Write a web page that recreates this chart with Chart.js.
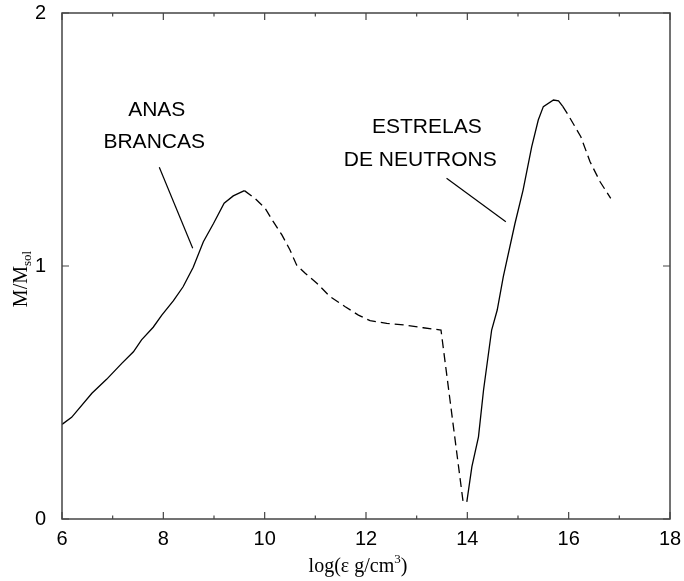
<!DOCTYPE html>
<html>
<head>
<meta charset="utf-8">
<script src="https://cdn.jsdelivr.net/npm/chart.js@4.4.1/dist/chart.umd.min.js"></script>
<style>
  html, body { margin: 0; padding: 0; background: #fff; }
  #massChart { display: block; }
</style>
</head>
<body>
<canvas id="massChart" width="684" height="581"></canvas>
<script>
// log(densidade) x massa / M_sol
const anasLogRho = [6.0, 6.19, 6.59, 6.88, 7.18, 7.41, 7.57, 7.80, 7.97, 8.20, 8.39, 8.59, 8.79, 8.99, 9.20, 9.38, 9.60];
const anasMass   = [0.374, 0.402, 0.497, 0.552, 0.615, 0.661, 0.708, 0.758, 0.806, 0.863, 0.918, 0.995, 1.096, 1.168, 1.248, 1.277, 1.298];

const anasInstLogRho = [9.60, 9.81, 10.01, 10.17, 10.34, 10.50, 10.63, 10.80, 11.03, 11.29, 11.59, 11.85, 12.08, 12.41, 12.74, 13.13, 13.48, 13.92];
const anasInstMass   = [1.298, 1.267, 1.228, 1.175, 1.123, 1.063, 1.004, 0.971, 0.932, 0.879, 0.839, 0.806, 0.784, 0.773, 0.767, 0.756, 0.747, 0.062];

const neutLogRho = [13.99, 14.09, 14.22, 14.32, 14.48, 14.59, 14.71, 14.94, 15.10, 15.27, 15.40, 15.50, 15.70, 15.80, 15.88];
const neutMass   = [0.068, 0.207, 0.325, 0.510, 0.747, 0.826, 0.958, 1.168, 1.300, 1.471, 1.577, 1.630, 1.656, 1.653, 1.632];

const neutInstLogRho = [15.88, 15.99, 16.24, 16.42, 16.62, 16.83];
const neutInstMass   = [1.632, 1.597, 1.511, 1.413, 1.333, 1.267];

// linhas indicadoras dos rótulos
const anasPointerX = [7.92, 8.58];
const anasPointerY = [1.390, 1.070];
const neutPointerX = [13.59, 14.76];
const neutPointerY = [1.347, 1.175];

const labelLines = [
  { text: "ANAS", x: 7.87, y: 1.617 },
  { text: "BRANCAS", x: 7.82, y: 1.490 },
  { text: "ESTRELAS", x: 13.20, y: 1.549 },
  { text: "DE NEUTRONS", x: 13.07, y: 1.419 }
];

const xTicks = [6, 8, 10, 12, 14, 16, 18];
const xMinorTicks = [7, 9, 11, 13, 15, 17];
const yTicks = [0, 1, 2];

function toPoints(xs, ys) {
  return xs.map((x, i) => ({ x: x, y: ys[i] }));
}

function curve(xs, ys, dashed, width) {
  return {
    data: toPoints(xs, ys),
    borderColor: "#000",
    borderWidth: width || 1.3,
    borderDash: dashed ? [9, 5] : [],
    pointRadius: 0,
    fill: false,
    tension: 0
  };
}

const sansFont = "'Liberation Sans', Arial, sans-serif";
const serifFont = "'Liberation Serif', 'Times New Roman', serif";

// moldura, marcas internas, rótulos e títulos dos eixos
const framePlugin = {
  id: "frame",
  afterDraw(chart) {
    const ctx = chart.ctx;
    const a = chart.chartArea;
    const xs = chart.scales.x;
    const ys = chart.scales.y;
    ctx.save();
    ctx.strokeStyle = "#444";
    ctx.lineWidth = 1.5;
    ctx.strokeRect(a.left, a.top, a.right - a.left, a.bottom - a.top);

    ctx.lineWidth = 1.2;
    ctx.beginPath();
    xTicks.forEach(v => {
      const px = xs.getPixelForValue(v);
      ctx.moveTo(px, a.bottom); ctx.lineTo(px, a.bottom - 7);
      ctx.moveTo(px, a.top); ctx.lineTo(px, a.top + 7);
    });
    xMinorTicks.forEach(v => {
      const px = xs.getPixelForValue(v);
      ctx.moveTo(px, a.bottom); ctx.lineTo(px, a.bottom - 3.5);
      ctx.moveTo(px, a.top); ctx.lineTo(px, a.top + 3.5);
    });
    yTicks.forEach(v => {
      const py = ys.getPixelForValue(v);
      ctx.moveTo(a.left, py); ctx.lineTo(a.left + 7, py);
      ctx.moveTo(a.right, py); ctx.lineTo(a.right - 7, py);
    });
    ctx.stroke();

    // rótulos das curvas
    ctx.fillStyle = "#000";
    ctx.font = "21px " + sansFont;
    ctx.textAlign = "center";
    ctx.textBaseline = "middle";
    labelLines.forEach(l => {
      ctx.fillText(l.text, xs.getPixelForValue(l.x), ys.getPixelForValue(l.y));
    });

    // título do eixo x: log(ε g/cm³)
    ctx.textAlign = "left";
    ctx.textBaseline = "alphabetic";
    const main = "log(\u03b5 g/cm";
    const close = ")";
    ctx.font = "20px " + serifFont;
    const wMain = ctx.measureText(main).width;
    const wClose = ctx.measureText(close).width;
    ctx.font = "13px " + serifFont;
    const wSup = ctx.measureText("3").width;
    const total = wMain + wSup + wClose;
    const cx = (a.left + a.right) / 2 - total / 2 - 8;
    const by = 572;
    ctx.font = "20px " + serifFont;
    ctx.fillText(main, cx, by);
    ctx.font = "13px " + serifFont;
    ctx.fillText("3", cx + wMain, by - 9);
    ctx.font = "20px " + serifFont;
    ctx.fillText(close, cx + wMain + wSup, by);

    // título do eixo y: M/M_sol
    ctx.translate(27, (a.top + a.bottom) / 2 + 13);
    ctx.rotate(-Math.PI / 2);
    ctx.font = "20px " + serifFont;
    const yMain = "M/M";
    const wy = ctx.measureText(yMain).width;
    ctx.font = "13px " + serifFont;
    const wSub = ctx.measureText("sol").width;
    const start = -(wy + wSub) / 2;
    ctx.font = "20px " + serifFont;
    ctx.fillText(yMain, start, 0);
    ctx.font = "13px " + serifFont;
    ctx.fillText("sol", start + wy, 4);
    ctx.restore();
  }
};

new Chart(document.getElementById("massChart"), {
  type: "line",
  data: {
    datasets: [
      curve(anasLogRho, anasMass, false),
      curve(anasInstLogRho, anasInstMass, true),
      curve(neutLogRho, neutMass, false),
      curve(neutInstLogRho, neutInstMass, true),
      curve(anasPointerX, anasPointerY, false, 1.2),
      curve(neutPointerX, neutPointerY, false, 1.2)
    ]
  },
  options: {
    responsive: false,
    animation: false,
    layout: { padding: { top: 13, right: 14, left: 0, bottom: 0 } },
    plugins: {
      legend: { display: false },
      tooltip: { enabled: false }
    },
    scales: {
      x: {
        type: "linear",
        min: 6,
        max: 18,
        afterFit(scale) {
          scale.height = 62;
          scale.paddingLeft = 0;
          scale.paddingRight = 0;
        },
        afterBuildTicks(scale) { scale.ticks = xTicks.map(v => ({ value: v })); },
        grid: { display: false },
        border: { display: false },
        ticks: {
          color: "#000",
          padding: 0,
          maxRotation: 0,
          font: { family: sansFont, size: 20 }
        }
      },
      y: {
        type: "linear",
        min: 0,
        max: 2,
        afterFit(scale) {
          scale.width = 62;
          scale.paddingTop = 0;
          scale.paddingBottom = 0;
        },
        afterBuildTicks(scale) { scale.ticks = yTicks.map(v => ({ value: v })); },
        grid: { display: false },
        border: { display: false },
        ticks: {
          color: "#000",
          padding: 8,
          font: { family: sansFont, size: 20 }
        }
      }
    }
  },
  plugins: [framePlugin]
});
</script>
</body>
</html>
